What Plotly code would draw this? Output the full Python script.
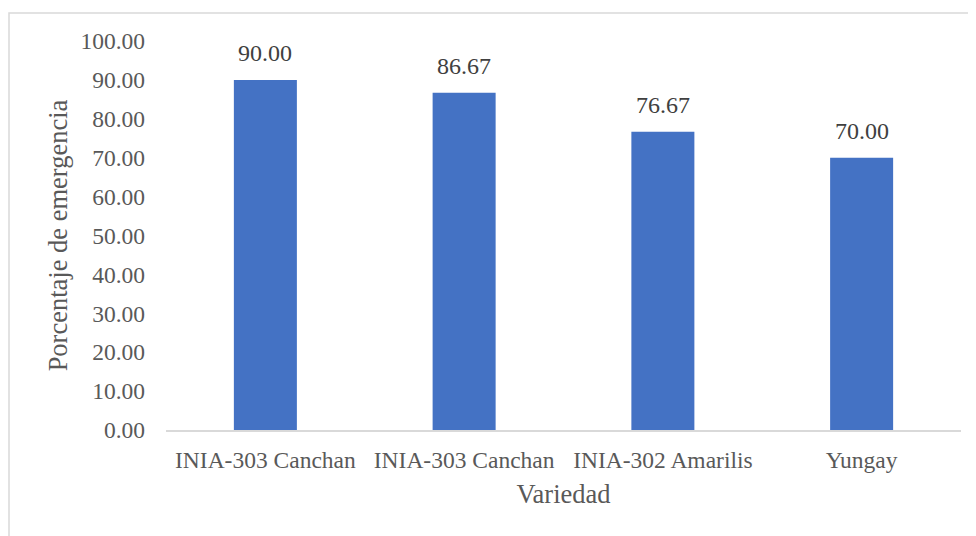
import plotly.graph_objects as go

categories = ["INIA-303 Canchan", "INIA-303 Canchan", "INIA-302 Amarilis", "Yungay"]
values = [90.00, 86.67, 76.67, 70.00]
y_ticks = [0, 10, 20, 30, 40, 50, 60, 70, 80, 90, 100]

positions = list(range(len(categories)))
font_family = "Liberation Serif, Times New Roman, serif"
gray = "#595959"

# page body has an 8px margin, so the figure is sized to the visible area
W, H = 968, 528
L, R, T, B = 158, 15, 33, 106
pw, ph = W - L - R, H - T - B

fig = go.Figure(go.Bar(
    x=positions, y=values,
    marker=dict(color="#4472C4", line=dict(width=0)),
    width=0.317,
    cliponaxis=False,
))

for p, v in zip(positions, values):
    fig.add_annotation(x=p, y=v, text=f"{v:.2f}", showarrow=False,
                       yanchor="bottom", yshift=12,
                       font=dict(family=font_family, size=24, color="#404040"))

fig.update_layout(
    width=W, height=H,
    margin=dict(l=L, r=R, t=T, b=B),
    paper_bgcolor="white", plot_bgcolor="white",
    showlegend=False,
    font=dict(family=font_family, color=gray),
)
fig.update_xaxes(
    tickmode="array", tickvals=positions, ticktext=categories,
    range=[-0.5, len(categories) - 0.5],
    showline=True, linecolor="#d9d9d9", linewidth=2,
    showgrid=False, ticks="", ticklabelstandoff=8,
    tickfont=dict(size=23.5, color=gray),
    title=dict(text="Variedad", font=dict(size=26.5, color=gray), standoff=12),
)
fig.update_yaxes(
    range=[0, 100], tickvals=y_ticks,
    ticktext=[f"{v:.2f}" for v in y_ticks],
    showgrid=False, showline=False, zeroline=False, ticks="",
    ticklabelstandoff=20,
    tickfont=dict(size=23.5, color=gray),
    title=dict(text="Porcentaje de emergencia", font=dict(size=26.5, color=gray), standoff=5),
)
fig.add_shape(type="rect", xref="paper", yref="paper",
              x0=(1 - L) / pw, x1=(W + 20 - L) / pw,
              y0=-0.5, y1=(ph + T - 5) / ph,
              line=dict(color="#d9d9d9", width=1.5), fillcolor="rgba(0,0,0,0)", layer="below")

fig.write_html("out.html")
